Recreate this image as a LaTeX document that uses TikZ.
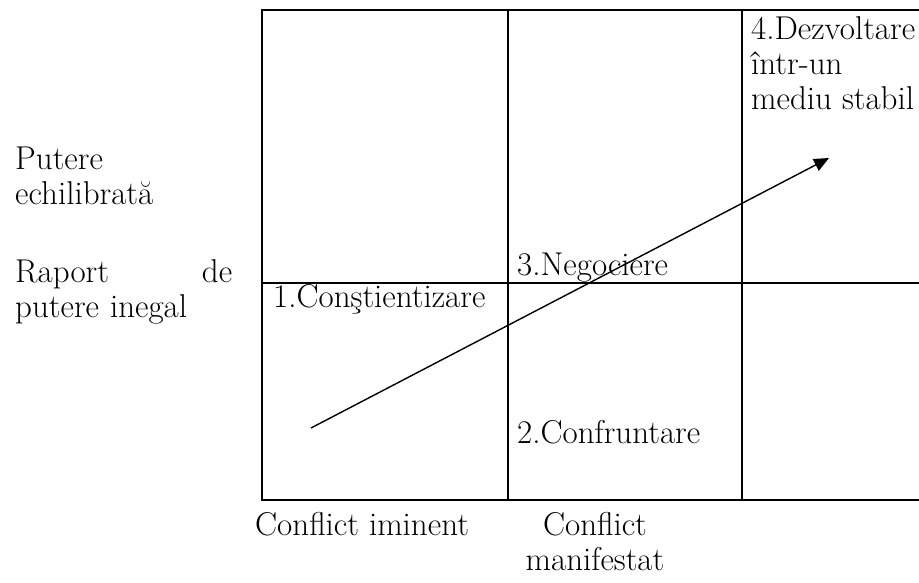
\documentclass[tikz,border=0pt]{standalone}
\usepackage{tikz}
\usetikzlibrary{calc,positioning,arrows.meta}

\tikzset{
  gridline/.style={line width=2pt},
  lbl/.style={anchor=north west, inner sep=0pt, align=left,
    font=\fontsize{33}{35}\selectfont},
  arr/.style={line width=1.4pt, -{Triangle[length=15pt,width=13pt]}}
}

\begin{document}
\begin{tikzpicture}[x=1pt,y=-1pt]
			\useasboundingbox (0,0) rectangle (919,582);
			% table lines
			\draw[gridline] (919,10) -- (262,10) -- (262,500) -- (919,500);
			\draw[gridline] (262,283) -- (919,283);
			\draw[gridline] (508,10) -- (508,500);
			\draw[gridline] (742,10) -- (742,500);
			% row labels
			\node[lbl] (pe) at (15,147) {Putere\\echilibrat\u{a}};
			\node[lbl, text width=217pt] (rp) at (15,259) {Raport\hfill de\\putere inegal};
			% column labels
			\node[lbl] (ci) at (255,512) {Conflict iminent};
			\node[lbl, align=center, anchor=north] (cm) at (595,512) {Conflict\\manifestat};
			% stages
			\node[lbl] (s1) at (273,284) {1.Con\c{s}tientizare};
			\node[lbl] (s2) at (517,420) {2.Confruntare};
			\node[lbl] (s3) at (517,253) {3.Negociere};
			\node[lbl] (s4) at (751,16) {4.Dezvoltare\\\^{\i}ntr-un\\mediu stabil};
			% path of evolution
			\coordinate (start) at (311,428);
			\coordinate (tip) at (829,158);
			\draw[arr] (start) -- (tip);
	\end{tikzpicture}
\end{document}
